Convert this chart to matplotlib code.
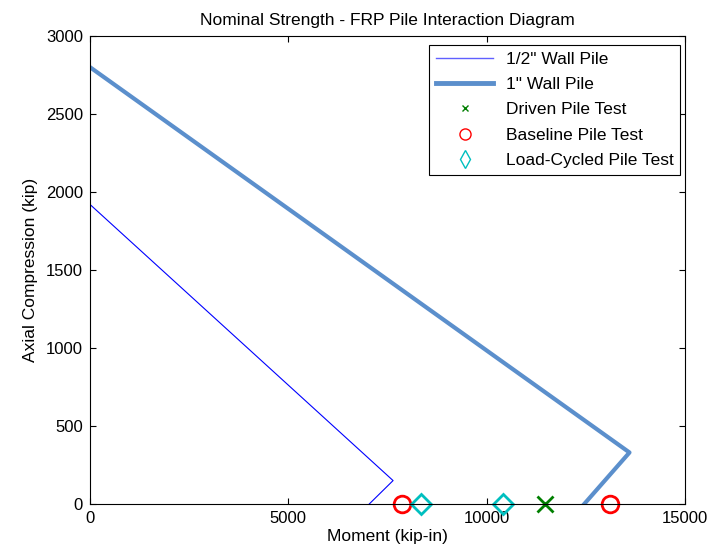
import matplotlib
matplotlib.use("Agg")
import matplotlib.pyplot as plt
from matplotlib.lines import Line2D

plt.rcParams['font.family'] = ['Liberation Sans', 'DejaVu Sans']

# interaction curves (moment kip-in, axial kip)
half_moment = [0, 7640, 7040]
half_axial = [1920, 150, 0]
one_moment = [0, 13600, 12460]
one_axial = [2800, 330, 0]

# test results
driven_moment = [11460]
driven_axial = [0]
baseline_moment = [7860, 13120]
baseline_axial = [0, 0]
cycled_moment = [8340, 10400]
cycled_axial = [0, 0]

fig = plt.figure(figsize=(7.1, 5.54), dpi=100)
ax = fig.add_axes([0.1268, 0.0903, 0.838, 0.8447])

ax.plot(half_moment, half_axial, color='blue', lw=0.8)
ax.plot(one_moment, one_axial, color='#5b8fcc', lw=3)
ax.plot(driven_moment, driven_axial, 'x', color='#007f00', ms=11, mew=2, clip_on=False)
ax.plot(baseline_moment, baseline_axial, 'o', mfc='none', mec='red', ms=12, mew=2, clip_on=False)
ax.plot(cycled_moment, cycled_axial, 'D', mfc='none', mec='#00bfbf', ms=10, mew=2, clip_on=False)

ax.set_xlim(0, 15000)
ax.set_ylim(0, 3000)
ax.set_xticks([0, 5000, 10000, 15000])
ax.set_yticks(range(0, 3001, 500))
ax.tick_params(direction='in', top=True, right=True, labelsize=12, length=4, pad=5)
ax.set_xlabel('Moment (kip-in)', fontsize=12.5, labelpad=2)
ax.set_ylabel('Axial Compression (kip)', fontsize=12.5, labelpad=6)
ax.set_title('Nominal Strength - FRP Pile Interaction Diagram', fontsize=12.5, pad=8)

handles = [
    Line2D([], [], color='#6060ff', lw=1),
    Line2D([], [], color='#5b8fcc', lw=3.5),
    Line2D([], [], ls='none', marker='x', color='#007f00', ms=5),
    Line2D([], [], ls='none', marker='o', mfc='none', mec='red', ms=8),
    Line2D([], [], ls='none', marker='d', mfc='none', mec='#00bfbf', ms=9),
]
labels = ['1/2" Wall Pile', '1" Wall Pile', 'Driven Pile Test',
          'Baseline Pile Test', 'Load-Cycled Pile Test']
leg = ax.legend(handles, labels, loc='upper right', fontsize=12.5, fancybox=False,
                edgecolor='black', framealpha=1, handlelength=3.3, handletextpad=0.7,
                borderpad=0.4, labelspacing=0.58, borderaxespad=0,
                bbox_to_anchor=(0.992, 0.981))
leg.get_frame().set_linewidth(0.8)

fig.savefig('out.png', dpi=100)
